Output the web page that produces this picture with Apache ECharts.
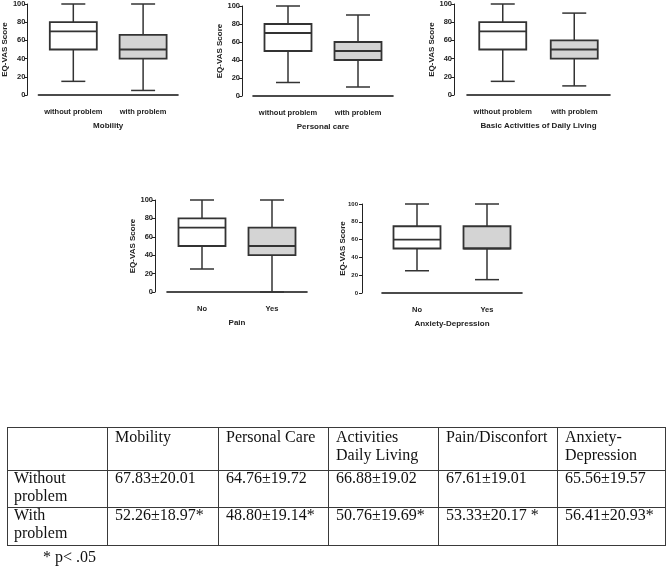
<!DOCTYPE html>
<html><head><meta charset="utf-8">
<script src="https://cdn.jsdelivr.net/npm/echarts@6/dist/echarts.min.js"></script>
<style>
html,body{margin:0;padding:0;background:#fff;}
#chart{position:absolute;left:0;top:0;width:667px;height:567px;}
#tbl{position:absolute;left:7px;top:427px;border-collapse:collapse;table-layout:fixed;font-family:"Liberation Serif","Times New Roman",serif;font-size:16px;line-height:18px;color:#111;}
#tbl td{border:1px solid #3a3a3a;padding:0 0 0 7px;vertical-align:top;box-sizing:border-box;white-space:nowrap;}
#tbl td div{position:relative;}
#note{position:absolute;left:43px;top:548px;font-family:"Liberation Serif","Times New Roman",serif;font-size:16px;line-height:18px;color:#111;}
</style></head>
<body>
<div id="chart"></div>
<table id="tbl"></table>
<div id="note"></div>
<script>
// ---- box plot data: [min, Q1, median, Q3, max] ----
const panelTitles = ['Mobility', 'Personal care', 'Basic Activities of Daily Living', 'Pain', 'Anxiety-Depression'];
const groupLabels = [
  ['without problem', 'with problem'],
  ['without problem', 'with problem'],
  ['without problem', 'with problem'],
  ['No', 'Yes'],
  ['No', 'Yes']
];
const yTicks = [0, 20, 40, 60, 80, 100];
const mobilityWithout = [15, 50, 70, 80, 100];
const mobilityWith = [5, 40, 50, 66, 100];
const personalWithout = [15, 50, 70, 80, 100];
const personalWith = [10, 40, 50, 60, 90];
const badlWithout = [15, 50, 70, 80, 100];
const badlWith = [10, 40, 50, 60, 90];
const painNo = [25, 50, 70, 80, 100];
const painYes = [0, 40, 50, 70, 100];
const anxietyNo = [25, 50, 60, 75, 100];
const anxietyYes = [15, 50, 50, 75, 100];

// ---- table data ----
const tableColumns = ['Mobility', 'Personal Care', 'Activities\nDaily Living', 'Pain/Disconfort', 'Anxiety-\nDepression'];
const tableRows = ['Without\nproblem', 'With\nproblem'];
const meansWithout = ['67.83', '64.76', '66.88', '67.61', '65.56'];
const sdWithout = ['20.01', '19.72', '19.02', '19.01', '19.57'];
const meansWith = ['52.26', '48.80', '50.76', '53.33', '56.41'];
const sdWith = ['18.97', '19.14', '19.69', '20.17', '20.93'];
const sigMarks = ['*', '*', '*', ' *', '*'];
const footnote = '* p< .05';

// ---- layout (positions only) ----
const panelData = [
  [mobilityWithout, mobilityWith],
  [personalWithout, personalWith],
  [badlWithout, badlWith],
  [painNo, painYes],
  [anxietyNo, anxietyYes]
];
const grids = [
  {left: 36, top: 3, width: 142, height: 92},
  {left: 253, top: 6, width: 140, height: 90},
  {left: 467, top: 3, width: 143, height: 92},
  {left: 167, top: 200, width: 140, height: 92},
  {left: 382, top: 204, width: 140, height: 89}
];
const yOffsets = [11, 11, 13, 12, 20];
const yNameGaps = [18, 18, 18, 18, 15];
const yNameMove = [true, true, true, true, false];
const yLabelSizes = [7.5, 7.5, 7.5, 7.5, 6];
const yLabelMargins = [2, 2, 2, 2, 4];
const boxFills = ['#ffffff', '#d4d4d4'];
const FONT = '"Liberation Sans", Arial, sans-serif';
const STROKE = '#333333';

function renderBox(params, api) {
  const x = api.value(0);
  const pMin = api.coord([x, api.value(1)]);
  const pQ1 = api.coord([x, api.value(2)]);
  const pMed = api.coord([x, api.value(3)]);
  const pQ3 = api.coord([x, api.value(4)]);
  const pMax = api.coord([x, api.value(5)]);
  const cx = pMin[0];
  const hb = 23.5, hc = 12;
  const ls = {stroke: STROKE, lineWidth: 1.5};
  return {
    type: 'group',
    children: [
      {type: 'line', shape: {x1: cx, y1: pMin[1], x2: cx, y2: pQ1[1]}, style: ls},
      {type: 'line', shape: {x1: cx, y1: pQ3[1], x2: cx, y2: pMax[1]}, style: ls},
      {type: 'line', shape: {x1: cx - hc, y1: pMin[1], x2: cx + hc, y2: pMin[1]}, style: ls},
      {type: 'line', shape: {x1: cx - hc, y1: pMax[1], x2: cx + hc, y2: pMax[1]}, style: ls},
      {type: 'rect', shape: {x: cx - hb, y: pQ3[1], width: hb * 2, height: pQ1[1] - pQ3[1]},
        style: {fill: boxFills[x], stroke: STROKE, lineWidth: 1.8}},
      {type: 'line', shape: {x1: cx - hb, y1: pMed[1], x2: cx + hb, y2: pMed[1]}, style: {stroke: STROKE, lineWidth: 1.8}}
    ]
  };
}

const option = {
  animation: false,
  backgroundColor: '#fff',
  grid: grids,
  xAxis: grids.map((g, i) => ({
    type: 'category', gridIndex: i, data: groupLabels[i], offset: 10,
    axisLine: {lineStyle: {color: '#111', width: 1.6}},
    axisTick: {alignWithLabel: true, interval: 0, length: 3, lineStyle: {color: '#111', width: 1}},
    axisLabel: {interval: 0, fontSize: 7.5, fontWeight: 'bold', color: '#222', fontFamily: FONT, margin: 3, hideOverlap: false},
    name: panelTitles[i], nameLocation: 'middle', nameGap: 17,
    nameTextStyle: {fontSize: 8, fontWeight: 'bold', color: '#222', fontFamily: FONT},
    splitLine: {show: false}
  })),
  yAxis: grids.map((g, i) => ({
    type: 'value', gridIndex: i, min: yTicks[0], max: yTicks[yTicks.length - 1], interval: 20,
    offset: yOffsets[i],
    axisLine: {show: true, lineStyle: {color: '#222', width: 1}},
    axisTick: {show: true, length: 3, lineStyle: {color: '#222', width: 1}},
    axisLabel: {fontSize: yLabelSizes[i], fontWeight: 'bold', color: '#222', fontFamily: FONT, margin: yLabelMargins[i]},
    splitLine: {show: false},
    name: 'EQ-VAS Score', nameLocation: 'middle', nameGap: yNameGaps[i], nameMoveOverlap: yNameMove[i],
    nameTextStyle: {fontSize: 8, fontWeight: 'bold', color: '#222', fontFamily: FONT}
  })),
  series: panelData.map((pd, i) => ({
    type: 'custom', xAxisIndex: i, yAxisIndex: i,
    renderItem: renderBox,
    encode: {x: 0, y: [1, 2, 3, 4, 5]},
    data: pd.map((v, k) => [k].concat(v))
  }))
};

const chart = echarts.init(document.getElementById('chart'), null, {renderer: 'canvas'});
chart.setOption(option);

// ---- table ----
const colWidths = [100, 111, 110, 110, 119, 108];
const rowHeights = [43, 37, 38];
const rowShift = [0, -2, -2];
const tbl = document.getElementById('tbl');
const br = s => s.replace(/\n/g, '<br>');
const cell = (txt, r, extra) => '<td' + (extra || '') + '><div style="top:' + rowShift[r] + 'px">' + txt + '</div></td>';
let html = '<colgroup>' + colWidths.map(w => '<col style="width:' + w + 'px">').join('') + '</colgroup>';
html += '<tr style="height:' + rowHeights[0] + 'px">' + cell('', 0) +
  tableColumns.map(c => cell(br(c), 0)).join('') + '</tr>';
html += '<tr style="height:' + rowHeights[1] + 'px">' + cell(br(tableRows[0]), 1, ' style="padding-left:6px"') +
  meansWithout.map((m, k) => cell(m + '\u00b1' + sdWithout[k], 1)).join('') + '</tr>';
html += '<tr style="height:' + rowHeights[2] + 'px">' + cell(br(tableRows[1]), 2, ' style="padding-left:6px"') +
  meansWith.map((m, k) => cell(m + '\u00b1' + sdWith[k] + sigMarks[k], 2)).join('') + '</tr>';
tbl.innerHTML = html;
document.getElementById('note').textContent = footnote;
</script>
</body></html>
